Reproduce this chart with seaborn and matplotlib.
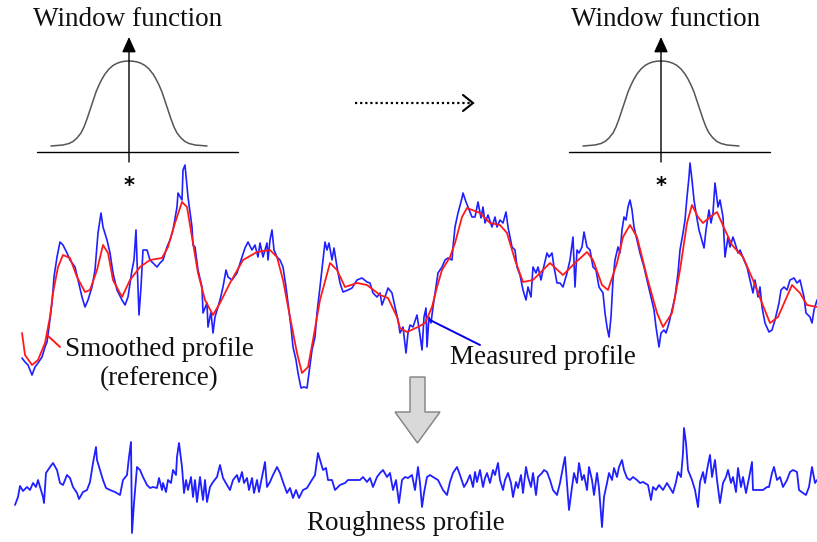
import numpy as np
import matplotlib
matplotlib.use("Agg")
import matplotlib.pyplot as plt
import seaborn as sns
from matplotlib.patches import Polygon

sns.set_theme(style="white")
plt.rcParams['font.family'] = ['Liberation Serif', 'DejaVu Serif']

# ---------------- data (screen-like units: x = position, y = depth, down is larger) -------------
measured_x = [22, 25, 28, 32, 35, 38, 42, 45, 47, 49, 52, 54, 57, 60, 63, 67, 70, 75, 78, 82, 85, 88, 92, 95,
              98, 101, 103, 107, 110, 113, 117, 122, 125, 128, 132, 134, 136, 137, 139, 141, 143, 147, 150,
              153, 157, 160, 163, 167, 170, 173, 177, 178, 182, 183, 185, 187, 188, 192, 193, 195, 198, 202,
              203, 207, 208, 211, 213, 215, 218,
              220, 223, 226, 228, 232, 237, 242, 245, 248, 252, 255, 258, 260, 263, 267, 268, 270, 272, 274,
              277, 280, 283, 286, 288, 291, 293, 296, 298, 301, 304, 307, 309, 312, 315, 317, 320, 323, 325,
              327, 329, 332, 334, 337, 340, 343, 348, 352, 357, 362, 367, 370, 373, 377, 380, 382, 385, 388,
              392, 395, 398, 400, 403, 406, 408,
              410, 413, 417, 420, 422, 424, 426, 427, 429, 431, 433, 436, 438, 442, 445, 448, 452, 453, 455,
              458, 462, 463, 466, 468, 472, 475, 478, 481, 483, 485, 488, 492, 495, 497, 500, 503, 506, 508,
              512, 515, 517, 520, 523, 526, 528, 531, 533, 536, 538, 541, 543, 547, 549, 552, 554, 557, 560,
              563, 567, 570, 573, 575, 577, 579, 582, 584, 587, 590, 593, 596, 599, 603, 605, 607, 609,
              611, 613, 615, 618, 620, 622, 624, 626, 628, 630, 632, 634, 637, 640, 644, 647, 650, 654, 656,
              659, 661, 664, 666, 669, 672, 675, 678, 680, 683, 685, 687, 689, 690, 692, 694, 696, 699, 701,
              704, 706, 709, 711, 713, 715, 718, 720, 723, 725, 728, 730, 733, 735, 738, 740, 744, 747, 750,
              753, 755, 758, 760, 762, 765, 769, 772, 775, 779, 781, 784, 787, 790, 794, 797, 800, 804, 806,
              810, 812, 814, 817]
measured_y = [358, 362, 365, 375, 367, 363, 357, 347, 342, 327, 303, 277, 257, 242, 245, 253, 260, 267, 280,
              297, 307, 300, 287, 270, 233, 213, 227, 240, 253, 273, 290, 300, 305, 297, 270, 260, 230, 260,
              315, 287, 250, 250, 260, 263, 267, 263, 260, 247, 240, 230, 207, 193, 200, 170, 165, 187, 197,
              227, 245, 247, 270, 287, 313, 303, 327, 312, 333, 317, 307,
              300, 287, 270, 277, 280, 273, 257, 248, 242, 250, 245, 257, 243, 257, 243, 260, 240, 230, 250,
              257, 260, 267, 287, 303, 327, 347, 360, 373, 388, 387, 388, 373, 350, 337, 313, 287, 260, 242,
              250, 243, 260, 248, 267, 283, 292, 290, 288, 280, 278, 282, 283, 293, 297, 293, 305, 297, 288,
              293, 307, 320, 333, 327, 353, 333,
              325, 327, 315, 335, 350, 317, 308, 347, 317, 323, 307, 287, 273, 267, 260, 258, 260, 247, 227,
              213, 198, 193, 202, 207, 217, 217, 202, 218, 207, 223, 215, 227, 217, 227, 220, 223, 212, 227,
              247, 250, 267, 275, 290, 300, 287, 297, 267, 273, 267, 280, 270, 253, 257, 253, 267, 283, 283,
              287, 273, 260, 237, 287, 250, 253, 247, 232, 247, 250, 267, 270, 287, 293, 313, 327, 337,
              317, 280, 260, 247, 253, 230, 217, 220, 207, 200, 210, 227, 240, 253, 267, 280, 293, 310, 327,
              347, 333, 330, 333, 323, 310, 297, 273, 250, 233, 220, 197, 177, 163, 180, 200, 213, 230, 237,
              248, 230, 210, 223, 213, 183, 207, 200, 217, 257, 237, 247, 237, 243, 253, 250, 260, 267, 280,
              293, 280, 297, 287, 307, 323, 332, 330, 320, 303, 290, 287, 290, 280, 278, 283, 280, 297, 313,
              317, 323, 310, 300]

smoothed_x = [22, 25, 32, 38, 45, 50, 53, 58, 63, 70, 77, 85, 90, 97, 103, 108, 113, 122, 130, 140, 150, 162,
              168, 175, 182, 187, 192, 198, 205, 213, 220, 230, 243, 257, 270, 277, 283, 290, 297, 302, 308,
              313, 320, 330, 337, 345, 357, 367, 380, 388, 397,
              400, 407, 418, 425, 432, 437, 442, 450, 455, 462, 467, 480, 490, 500, 507, 515, 523, 533, 550,
              563, 575, 587, 593, 602, 608, 617, 623, 630, 637, 647, 657, 663, 672, 680, 687, 692, 698, 703,
              710, 717, 725, 732, 743, 753, 762, 770, 778, 792, 800, 807, 817]
smoothed_y = [333, 355, 365, 360, 343, 317, 293, 267, 255, 258, 277, 292, 290, 270, 245, 253, 280, 297, 280,
              267, 260, 258, 247, 223, 202, 207, 237, 273, 300, 315, 303, 283, 260, 252, 250, 257, 280, 317,
              353, 373, 367, 340, 300, 263, 270, 287, 283, 285, 295, 298, 317,
              328, 332, 327, 323, 307, 287, 270, 257, 243, 217, 208, 213, 223, 225, 233, 260, 282, 280, 263,
              275, 263, 252, 260, 285, 290, 263, 237, 225, 237, 277, 313, 327, 313, 270, 223, 205, 217, 223,
              217, 212, 230, 245, 257, 280, 303, 323, 317, 285, 293, 305, 307]

roughness_x = [15, 18, 20, 23, 27, 30, 33, 36, 38, 41, 43, 44, 46, 50, 53, 57, 60, 63, 67, 70, 73, 77, 79, 83,
               87, 90, 93, 96, 97, 100, 103, 106, 110, 115, 120, 123, 127, 129, 131, 132, 134, 137, 140, 143,
               147, 150, 153, 157, 159, 162, 163, 166, 168, 171, 173, 176, 177, 179, 182, 184, 186, 188, 191,
               193, 195, 197, 200, 203, 205, 207, 210, 213, 217, 220, 223, 227, 230, 233, 237, 239, 242, 244,
               247, 249, 252, 254, 257, 259, 262, 265, 267, 270, 273, 277, 280, 283, 287, 290, 293, 296, 299,
               303, 307, 310, 315, 318, 321, 323, 326, 328, 332, 335, 340, 345, 348, 360, 363, 367, 370, 373,
               377, 380, 383, 387, 390, 393, 396, 399, 402, 405, 408, 412, 415, 418,
               420, 422, 424, 427, 430, 433, 438, 443, 447, 450, 453, 457, 460, 464, 467, 470, 473, 475, 477,
               480, 483, 485, 487, 490, 493, 495, 498, 500, 503, 505, 508, 511, 513, 516, 518, 521, 523, 526,
               528, 531, 533, 536, 538, 542, 544, 547, 550, 553, 557, 560, 563, 565, 567, 569, 572, 574, 577,
               579, 582, 584, 587, 589, 592, 594, 597, 599, 602, 604, 607, 609, 612, 614, 617, 619, 622, 624,
               627, 630, 633, 637, 640, 643, 648, 651, 653, 656, 659, 663, 667, 670, 673, 676, 678, 681, 683,
               684, 686, 688, 692, 695, 698, 700, 703, 705, 707, 710, 712, 715, 717, 720, 723, 726, 728, 731,
               733, 736, 738, 741, 743, 746, 749, 752, 753, 757, 763, 767, 769, 772, 774, 777, 780, 783, 787,
               790, 793, 797, 799, 803, 806, 809, 812, 815, 817]
roughness_y = [505, 497, 486, 491, 487, 490, 483, 487, 480, 490, 497, 503, 473, 467, 463, 470, 483, 485, 475,
               478, 487, 493, 499, 492, 490, 482, 463, 447, 460, 470, 480, 488, 490, 492, 495, 480, 475, 457,
               442, 533, 503, 467, 470, 477, 485, 488, 487, 488, 478, 490, 483, 492, 480, 483, 470, 475, 457,
               443, 467, 493, 480, 490, 477, 497, 480, 502, 477, 500, 480, 502, 487, 482, 477, 465, 478, 485,
               490, 480, 475, 482, 472, 483, 478, 490, 478, 493, 480, 492, 477, 462, 487, 482, 475, 467, 473,
               482, 493, 488, 498, 490, 498, 490, 488, 483, 475, 453, 463, 470, 468, 480, 480, 490, 485, 483,
               480, 480, 477, 482, 478, 487, 477, 473, 470, 477, 473, 490, 480, 503, 480, 477, 478, 475, 490,
               467,
               483, 507, 493, 477, 475, 477, 480, 490, 495, 482, 473, 467, 475, 487, 482, 475, 487, 472, 482,
               470, 487, 478, 473, 483, 470, 475, 463, 480, 490, 480, 473, 483, 497, 482, 488, 475, 493, 467,
               477, 487, 473, 495, 477, 473, 470, 472, 480, 490, 495, 483, 467, 457, 483, 510, 487, 473, 483,
               463, 480, 475, 490, 467, 480, 495, 473, 488, 527, 497, 483, 473, 480, 468, 477, 467, 460, 470,
               478, 480, 477, 480, 483, 482, 485, 500, 487, 490, 485, 490, 483, 488, 493, 482, 472, 477, 453,
               428, 443, 470, 480, 490, 507, 482, 472, 483, 470, 455, 477, 460, 480, 503, 483, 477, 470, 483,
               477, 492, 468, 487, 477, 493, 478, 462, 490, 490, 490, 487, 487, 473, 467, 480, 477, 487, 480,
               472, 470, 472, 490, 493, 495, 487, 467, 483, 480]

window_offset = [-78, -72, -66, -60, -56, -52, -48, -45, -42, -39, -36, -33, -30, -27, -24, -20, -16, -12, -8,
                 -4, 0, 4, 8, 12, 16, 20, 24, 27, 30, 33, 36, 39, 42, 45, 48, 52, 56, 60, 66, 72, 78]
window_depth = [146, 145.5, 145, 143.5, 141.5, 138, 133, 127, 119, 110, 101, 92, 85, 79, 74, 69, 65.5, 63.3,
                61.9, 61.2, 61, 61.2, 61.9, 63.3, 65.5, 69, 74, 79, 85, 92, 101, 110, 119, 127, 133, 138,
                141.5, 143.5, 145, 145.5, 146]
window_centers = [129, 661]

# ---------------- figure ----------------
fig = plt.figure(figsize=(8.17, 5.42), dpi=100)
ax = fig.add_axes([0, 0, 1, 1])

for c in window_centers:
    sns.lineplot(x=[c + o for o in window_offset], y=window_depth, sort=False, estimator=None,
                 color='#555555', lw=1.1, ax=ax)
    ax.plot([c - 92, c + 109], [152, 152], color='black', lw=1.0)
    ax.annotate('', xy=(c, 37), xytext=(c, 162),
                arrowprops=dict(arrowstyle='-|>,head_length=0.55,head_width=0.25', color='black',
                                lw=1.0, mutation_scale=17, shrinkA=0, shrinkB=0))
    ax.text(c, 186, '*', ha='center', va='center', fontsize=15, fontweight='bold',
            family=['DejaVu Sans'], color='black')

ax.text(128, 20, 'Window function', ha='center', va='center', fontsize=19.5, color='#111111')
ax.text(666, 20, 'Window function', ha='center', va='center', fontsize=19.5, color='#111111')

# dotted arrow
ax.plot([355, 471], [103, 103], color='black', lw=1.6, linestyle=(0, (1, 1.3)))
ax.plot([463, 473, 463], [95, 103, 111], color='black', lw=1.5, solid_joinstyle='miter')

# profiles
sns.lineplot(x=measured_x, y=measured_y, sort=False, estimator=None, color='#1f1fff', lw=1.2, ax=ax)
sns.lineplot(x=smoothed_x, y=smoothed_y, sort=False, estimator=None, color='#ff1a1a', lw=1.3, ax=ax)
sns.lineplot(x=roughness_x, y=roughness_y, sort=False, estimator=None, color='#1f1fff', lw=1.3, ax=ax)

# leader lines and labels
ax.plot([47, 60], [335, 347], color='#ff1a1a', lw=1.4)
ax.plot([430, 480], [320, 345], color='#0000ee', lw=1.4)
ax.text(159, 349, 'Smoothed profile', ha='center', va='center', fontsize=19.5, color='#111111')
ax.text(159, 379, '(reference)', ha='center', va='center', fontsize=19.5, color='#111111')
ax.text(543, 357, 'Measured profile', ha='center', va='center', fontsize=19.5, color='#111111')
ax.text(406, 523, 'Roughness profile', ha='center', va='center', fontsize=19.5, color='#111111')

# grey down arrow
arrow = Polygon([(410, 377), (425, 377), (425, 412), (440, 412), (417.5, 443), (395, 412), (410, 412)],
                closed=True, facecolor='#d9d9d9', edgecolor='#808080', lw=1.0)
ax.add_patch(arrow)

ax.set_xlim(0, 817)
ax.set_ylim(542, 0)
ax.axis('off')
if ax.get_legend() is not None:
    ax.get_legend().remove()

fig.savefig('out.png', dpi=100, facecolor='white')
